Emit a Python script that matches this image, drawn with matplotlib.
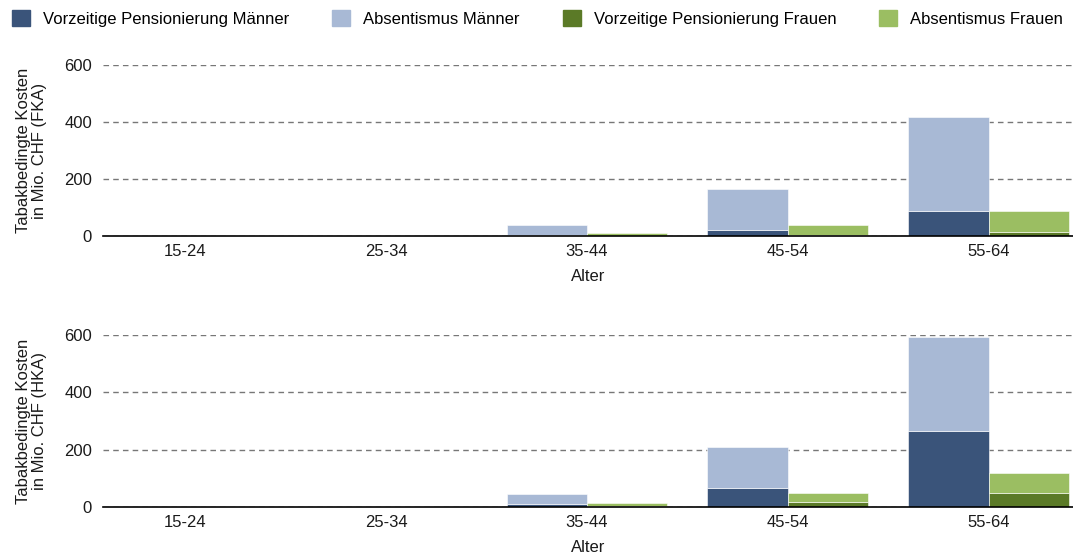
import numpy as np
import matplotlib
matplotlib.use("Agg")
import matplotlib.pyplot as plt
import matplotlib.patches as mpatches

plt.rcParams['font.family'] = ['Liberation Sans', 'DejaVu Sans']

# Altersgruppen
alter = ["15-24", "25-34", "35-44", "45-54", "55-64"]

# FKA (oben), Mio. CHF
fka_pens_m = [0, 0, 3, 21, 88]
fka_abs_m = [0, 0, 37, 144, 330]
fka_pens_f = [0, 0, 1, 3, 14]
fka_abs_f = [0, 0, 11, 34, 73]

# HKA (unten), Mio. CHF
hka_pens_m = [0, 0, 9, 66, 264]
hka_abs_m = [0, 0, 37, 145, 330]
hka_pens_f = [0, 0, 3, 19, 48]
hka_abs_f = [0, 0, 11, 31, 71]

c_pm = "#3a547a"
c_am = "#a8b9d5"
c_pf = "#5b7a27"
c_af = "#9bbe62"

fig = plt.figure(figsize=(10.73, 5.6), dpi=100)
ax1 = fig.add_axes([0.096, 0.5786, 0.904, 0.3054])
ax2 = fig.add_axes([0.096, 0.0946, 0.904, 0.3072])

x = np.arange(len(alter))
w = 0.4
fs = 12

def panel(ax, pm, am, pf, af, ylabel):
    ax.bar(x - w / 2, pm, w, color=c_pm, edgecolor="white", linewidth=0.4, zorder=3)
    ax.bar(x - w / 2, am, w, bottom=pm, color=c_am, edgecolor="white", linewidth=0.4, zorder=3)
    ax.bar(x + w / 2, pf, w, color=c_pf, edgecolor="white", linewidth=0.4, zorder=3)
    ax.bar(x + w / 2, af, w, bottom=pf, color=c_af, edgecolor="white", linewidth=0.4, zorder=3)
    ax.set_xlim(-0.41, 4.42)
    ax.set_ylim(0, 600)
    ax.set_yticks([0, 200, 400, 600])
    ax.set_xticks(x)
    ax.set_xticklabels(alter)
    ax.tick_params(length=0, labelsize=fs, colors="#1a1a1a", pad=6)
    ax.tick_params(axis="y", pad=8)
    for s in ["top", "right", "left"]:
        ax.spines[s].set_visible(False)
    ax.spines["bottom"].set_color("black")
    ax.spines["bottom"].set_linewidth(1.2)
    ax.spines["bottom"].set_zorder(4)
    ax.yaxis.grid(True, linestyle=(0, (4, 3)), color="#777777", linewidth=1)
    ax.set_axisbelow(True)
    ax.set_xlabel("Alter", fontsize=fs, color="#1a1a1a", labelpad=7)
    ax.set_ylabel(ylabel, fontsize=fs, color="#1a1a1a", labelpad=12, linespacing=1.1)

panel(ax1, fka_pens_m, fka_abs_m, fka_pens_f, fka_abs_f, "Tabakbedingte Kosten\nin Mio. CHF (FKA)")
panel(ax2, hka_pens_m, hka_abs_m, hka_pens_f, hka_abs_f, "Tabakbedingte Kosten\nin Mio. CHF (HKA)")

handles = [mpatches.Patch(color=c_pm, label="Vorzeitige Pensionierung Männer"),
           mpatches.Patch(color=c_am, label="Absentismus Männer"),
           mpatches.Patch(color=c_pf, label="Vorzeitige Pensionierung Frauen"),
           mpatches.Patch(color=c_af, label="Absentismus Frauen")]
fig.legend(handles=handles, loc="upper left", bbox_to_anchor=(0.011, 0.982, 0.98, 0.0),
           mode="expand", ncol=4, frameon=False, fontsize=fs,
           handlelength=1.08, handleheight=1.08, handletextpad=0.8,
           borderaxespad=0.0, borderpad=0.0)

fig.savefig("out.png", dpi=100)
